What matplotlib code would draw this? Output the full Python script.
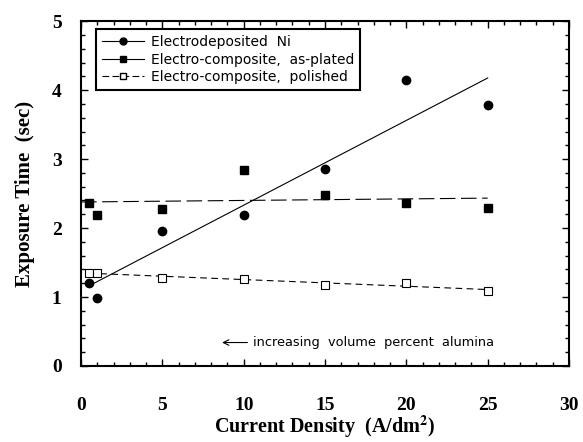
import numpy as np
import matplotlib.pyplot as plt
from matplotlib.ticker import MultipleLocator

# current density (A/dm^2)
x_vals = [0.5, 1, 5, 10, 15, 20, 25]
# exposure time (sec)
ni_vals = [1.20, 0.99, 1.96, 2.19, 2.85, 4.15, 3.78]
plated_vals = [2.37, 2.19, 2.28, 2.84, 2.48, 2.37, 2.29]
polished_vals = [1.35, 1.35, 1.28, 1.26, 1.18, 1.20, 1.09]

labels = ["Electrodeposited  Ni",
          "Electro-composite,  as-plated",
          "Electro-composite,  polished"]

serif = "Liberation Serif"
sans = "DejaVu Sans"
plt.rcParams["mathtext.fontset"] = "stix"

fig = plt.figure(figsize=(5.83, 4.42), dpi=100)
ax = fig.add_axes([0.139, 0.172, 0.837, 0.780])

x = np.array(x_vals)

# Ni: solid fit + filled circles
p = np.polyfit(x, ni_vals, 1)
xf = np.array([0.5, 25])
ax.plot(xf, np.polyval(p, xf), color="black", lw=0.8)
ax.plot(x, ni_vals, "o", color="black", ms=6)

# as-plated: long dashed fit + filled squares
p = np.polyfit(x, plated_vals, 1)
xf = np.array([0, 25])
ax.plot(xf, np.polyval(p, xf), color="black", lw=0.8, dashes=(14, 5))
ax.plot(x, plated_vals, "s", color="black", ms=6)

# polished: short dashed fit + open squares
p = np.polyfit(x, polished_vals, 1)
xf = np.array([0.5, 25])
ax.plot(xf, np.polyval(p, xf), color="black", lw=0.8, dashes=(6, 4))
ax.plot(x, polished_vals, "s", mfc="white", mec="black", mew=0.8, ms=6)

# legend handles
h1, = ax.plot([], [], "-o", color="black", lw=0.8, ms=5)
h2, = ax.plot([], [], "-s", color="black", lw=0.8, ms=5)
h3, = ax.plot([], [], "s", mfc="white", mec="black", ls=(0, (6, 3)), color="black", lw=0.8, ms=5)
leg = ax.legend([h1, h2, h3], labels, loc="upper left", bbox_to_anchor=(0.022, 0.99),
                frameon=True, fancybox=False, edgecolor="black", framealpha=1,
                prop={"family": sans, "size": 10}, handlelength=3.0,
                borderpad=0.45, labelspacing=0.25, handletextpad=0.5,
                borderaxespad=0.3)
leg.get_frame().set_linewidth(1.5)

ax.annotate("", xy=(8.5, 0.34), xytext=(10.4, 0.34),
            arrowprops=dict(arrowstyle="->", color="black", lw=0.8))
ax.text(10.6, 0.34, "increasing  volume  percent  alumina", va="center",
        ha="left", fontsize=9.3, family=sans)

ax.set_xlim(0, 30)
ax.set_ylim(0, 5)
ax.xaxis.set_major_locator(MultipleLocator(5))
ax.xaxis.set_minor_locator(MultipleLocator(1))
ax.yaxis.set_major_locator(MultipleLocator(1))
ax.yaxis.set_minor_locator(MultipleLocator(0.2))
ax.tick_params(which="both", direction="in", top=True, right=True, width=1)
ax.tick_params(which="major", length=5)
ax.tick_params(which="minor", length=3)
ax.tick_params(axis="x", pad=22)
ax.tick_params(axis="y", pad=14)
for lab in ax.get_xticklabels() + ax.get_yticklabels():
    lab.set_family(serif)
    lab.set_fontweight("bold")
    lab.set_fontsize(14)
for s in ax.spines.values():
    s.set_linewidth(1.5)

ax.set_xlabel("Current Density  (A/dm$^\\mathbf{2}$)", family=serif,
              fontweight="bold", fontsize=14.5, labelpad=0)
ax.set_ylabel("Exposure Time  (sec)", family=serif, fontweight="bold",
              fontsize=15, labelpad=12)

fig.savefig("out.png", dpi=100)
